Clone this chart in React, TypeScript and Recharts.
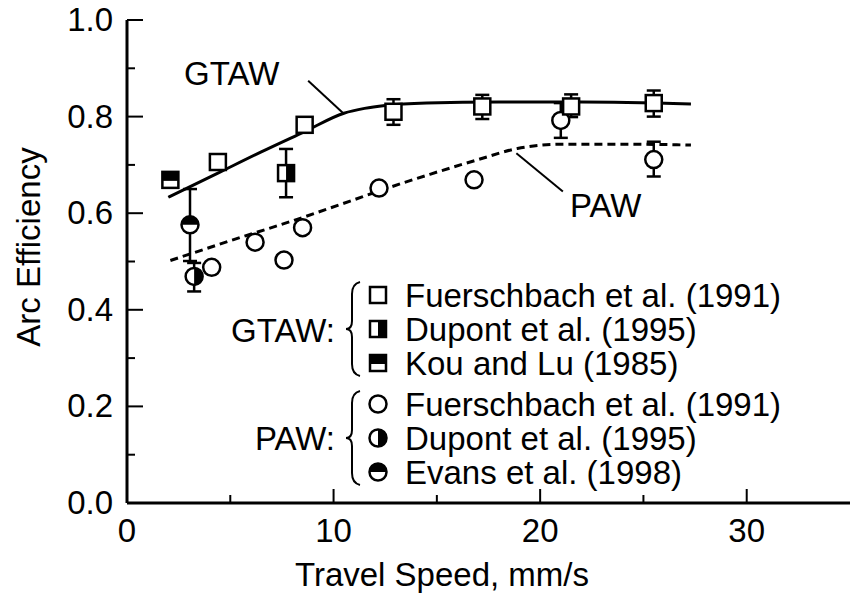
import React from "react"
import {
  ComposedChart,
  Line,
  Scatter,
  XAxis,
  YAxis,
  ErrorBar,
  ReferenceLine,
} from "recharts"

// fitted curves
const gtawCurveX = [2.0, 4.4, 6.5, 8.6, 10.5, 11.5, 12.5, 14.5, 18, 22, 27.3]
const gtawCurveY = [0.633, 0.683, 0.727, 0.769, 0.807, 0.817, 0.823, 0.828, 0.83, 0.83, 0.826]
const pawCurveX = [2.1, 5, 8, 10.8, 12.2, 14.7, 17, 18.9, 21, 24, 27.3]
const pawCurveY = [0.502, 0.543, 0.584, 0.625, 0.646, 0.681, 0.711, 0.734, 0.743, 0.743, 0.741]

// GTAW data
const gtawFuerX = [4.4, 8.6, 12.9, 17.2, 21.5, 25.5]
const gtawFuerY = [0.706, 0.783, 0.81, 0.821, 0.821, 0.828]
const gtawFuerLo = [0, 0, 0.027, 0.026, 0.022, 0.028]
const gtawFuerHi = [0, 0, 0.026, 0.024, 0.025, 0.026]
const gtawDupontX = [7.7]
const gtawDupontY = [0.683]
const gtawDupontLo = [0.05]
const gtawDupontHi = [0.05]
const gtawKouX = [2.1]
const gtawKouY = [0.669]

// PAW data
const pawFuerX = [4.1, 6.2, 7.6, 8.5, 12.2, 16.8, 21.0, 25.5]
const pawFuerY = [0.488, 0.54, 0.503, 0.57, 0.652, 0.669, 0.792, 0.711]
const pawFuerLo = [0, 0, 0, 0, 0, 0, 0.036, 0.035]
const pawFuerHi = [0, 0, 0, 0, 0, 0, 0.036, 0.037]
const pawDupontX = [3.25]
const pawDupontY = [0.469]
const pawDupontLo = [0.031]
const pawDupontHi = [0.028]
const pawEvansX = [3.05]
const pawEvansY = [0.576]
const pawEvansLo = [0.075]
const pawEvansHi = [0.074]

const xTicks = [0, 5, 10, 15, 20, 25, 30]
const yTicks = [0, 0.1, 0.2, 0.3, 0.4, 0.5, 0.6, 0.7, 0.8, 0.9, 1.0]

const legendGtaw = ["Fuerschbach et al. (1991)", "Dupont et al. (1995)", "Kou and Lu (1985)"]
const legendPaw = ["Fuerschbach et al. (1991)", "Dupont et al. (1995)", "Evans et al. (1998)"]

const FONT = "'Liberation Sans', Arial, Helvetica, sans-serif"
const FS = 33

const pts = (xs: number[], ys: number[], lo?: number[], hi?: number[]) =>
  xs.map((x, i) => ({ x, y: ys[i], err: [lo ? lo[i] : 0, hi ? hi[i] : 0] }))

const H = 8
const R = 8.5
const SW = 2.5

const OpenSquare = ({ cx, cy }: any) => (
  <rect x={cx - H} y={cy - H} width={2 * H} height={2 * H} fill="#fff" stroke="#000" strokeWidth={SW} />
)
const RightSquare = ({ cx, cy }: any) => (
  <g>
    <rect x={cx - H} y={cy - H} width={2 * H} height={2 * H} fill="#fff" stroke="#000" strokeWidth={SW} />
    <rect x={cx} y={cy - H} width={H} height={2 * H} fill="#000" />
  </g>
)
const TopSquare = ({ cx, cy }: any) => (
  <g>
    <rect x={cx - H} y={cy - H} width={2 * H} height={2 * H} fill="#fff" stroke="#000" strokeWidth={SW} />
    <rect x={cx - H} y={cy - H} width={2 * H} height={H + 1} fill="#000" />
  </g>
)
const OpenCircle = ({ cx, cy }: any) => (
  <circle cx={cx} cy={cy} r={R} fill="#fff" stroke="#000" strokeWidth={SW} />
)
const RightCircle = ({ cx, cy }: any) => (
  <g>
    <circle cx={cx} cy={cy} r={R} fill="#fff" stroke="#000" strokeWidth={SW} />
    <path d={`M${cx},${cy - R} A${R},${R} 0 0 1 ${cx},${cy + R} Z`} fill="#000" />
  </g>
)
const TopCircle = ({ cx, cy }: any) => (
  <g>
    <circle cx={cx} cy={cy} r={R} fill="#fff" stroke="#000" strokeWidth={SW} />
    <path d={`M${cx - R},${cy} A${R},${R} 0 0 1 ${cx + R},${cy} Z`} fill="#000" />
  </g>
)

const XTick = ({ x, y, payload }: any) => {
  const major = payload.value % 10 === 0
  return (
    <g>
      <line x1={x} y1={y} x2={x} y2={y - (major ? 14 : 8)} stroke="#000" strokeWidth={2} />
      {major && (
        <text x={x} y={y + 39} textAnchor="middle" fontSize={FS} fontFamily={FONT} fill="#000">
          {payload.value}
        </text>
      )}
    </g>
  )
}

const YTick = ({ x, y, payload }: any) => {
  const v = Math.round(payload.value * 10)
  const major = v % 2 === 0
  return (
    <g>
      <line x1={x} y1={y} x2={x + (major ? 16 : 8)} y2={y} stroke="#000" strokeWidth={2} />
      {major && (
        <text x={x - 14} y={y + 11} textAnchor="end" fontSize={FS} fontFamily={FONT} fill="#000">
          {(v / 10).toFixed(1)}
        </text>
      )}
    </g>
  )
}

const Brace = ({ top, bottom, x }: { top: number; bottom: number; x: number }) => {
  const mid = (top + bottom) / 2
  return (
    <path
      d={`M${x + 8},${top} Q${x},${top + 2} ${x},${top + 12} L${x},${mid - 8} Q${x},${mid} ${x - 6},${mid} Q${x},${mid} ${x},${mid + 8} L${x},${bottom - 12} Q${x},${bottom - 2} ${x + 8},${bottom}`}
      fill="none"
      stroke="#000"
      strokeWidth={2}
    />
  )
}

const gtawShapes = [OpenSquare, RightSquare, TopSquare]
const pawShapes = [OpenCircle, RightCircle, TopCircle]
const gtawRows = [295, 329, 363]
const pawRows = [404, 438, 472]

export default function App() {
  const gtawCurve = gtawCurveX.map((x, i) => ({ x, y: gtawCurveY[i] }))
  const pawCurve = pawCurveX.map((x, i) => ({ x, y: pawCurveY[i] }))
  const errProps = { dataKey: "err", direction: "y" as const, width: 7, stroke: "#000", strokeWidth: SW }

  return (
    <div style={{ position: "absolute", left: 0, top: 0, width: 854, height: 595, background: "#fff" }}>
      <ComposedChart width={854} height={595} margin={{ top: 20, right: 4, left: 0, bottom: 0 }}>
        <XAxis
          type="number"
          dataKey="x"
          domain={[0, 35]}
          ticks={xTicks}
          allowDataOverflow
          height={92}
          tickSize={0}
          tickMargin={0}
          tick={<XTick />}
          axisLine={{ stroke: "#000", strokeWidth: 3 }}
          tickLine={false}
        />
        <YAxis
          type="number"
          dataKey="y"
          domain={[0, 1]}
          ticks={yTicks}
          width={127}
          tickSize={0}
          tickMargin={0}
          tick={<YTick />}
          axisLine={{ stroke: "#000", strokeWidth: 3 }}
          tickLine={false}
        />
        <Line data={gtawCurve} dataKey="y" type="monotone" stroke="#000" strokeWidth={3} dot={false} isAnimationActive={false} />
        <Line
          data={pawCurve}
          dataKey="y"
          type="monotone"
          stroke="#000"
          strokeWidth={3}
          strokeDasharray="8 5"
          dot={false}
          isAnimationActive={false}
        />
        <ReferenceLine segment={[{ x: 8.77, y: 0.874 }, { x: 10.47, y: 0.807 }]} stroke="#000" strokeWidth={2} />
        <ReferenceLine segment={[{ x: 18.85, y: 0.724 }, { x: 21.1, y: 0.645 }]} stroke="#000" strokeWidth={2} />
        <Scatter data={pts(pawFuerX, pawFuerY, pawFuerLo, pawFuerHi)} dataKey="y" shape={OpenCircle} isAnimationActive={false}>
          <ErrorBar {...errProps} />
        </Scatter>
        <Scatter data={pts(pawDupontX, pawDupontY, pawDupontLo, pawDupontHi)} dataKey="y" shape={RightCircle} isAnimationActive={false}>
          <ErrorBar {...errProps} />
        </Scatter>
        <Scatter data={pts(pawEvansX, pawEvansY, pawEvansLo, pawEvansHi)} dataKey="y" shape={TopCircle} isAnimationActive={false}>
          <ErrorBar {...errProps} />
        </Scatter>
        <Scatter data={pts(gtawFuerX, gtawFuerY, gtawFuerLo, gtawFuerHi)} dataKey="y" shape={OpenSquare} isAnimationActive={false}>
          <ErrorBar {...errProps} />
        </Scatter>
        <Scatter data={pts(gtawDupontX, gtawDupontY, gtawDupontLo, gtawDupontHi)} dataKey="y" shape={RightSquare} isAnimationActive={false}>
          <ErrorBar {...errProps} />
        </Scatter>
        <Scatter data={pts(gtawKouX, gtawKouY)} dataKey="y" shape={TopSquare} isAnimationActive={false} />
      </ComposedChart>

      <svg
        width={854}
        height={595}
        style={{ position: "absolute", left: 0, top: 0, pointerEvents: "none" }}
        fontFamily={FONT}
        fontSize={FS}
      >
        <text x={184} y={85}>GTAW</text>
        <text x={570} y={217}>PAW</text>
        <text x={442} y={586} textAnchor="middle">Travel Speed, mm/s</text>
        <text x={40} y={247} textAnchor="middle" transform="rotate(-90 40 247)">Arc Efficiency</text>

        <text x={335} y={342} textAnchor="end">GTAW:</text>
        <text x={335} y={450} textAnchor="end">PAW:</text>
        <Brace x={352} top={282} bottom={376} />
        <Brace x={352} top={391} bottom={485} />
        {legendGtaw.map((t, i) => {
          const Shape = gtawShapes[i]
          return (
            <g key={"g" + i}>
              <Shape cx={378} cy={gtawRows[i]} />
              <text x={405} y={gtawRows[i] + 12}>{t}</text>
            </g>
          )
        })}
        {legendPaw.map((t, i) => {
          const Shape = pawShapes[i]
          return (
            <g key={"p" + i}>
              <Shape cx={378} cy={pawRows[i]} />
              <text x={405} y={pawRows[i] + 12}>{t}</text>
            </g>
          )
        })}
      </svg>
    </div>
  )
}
